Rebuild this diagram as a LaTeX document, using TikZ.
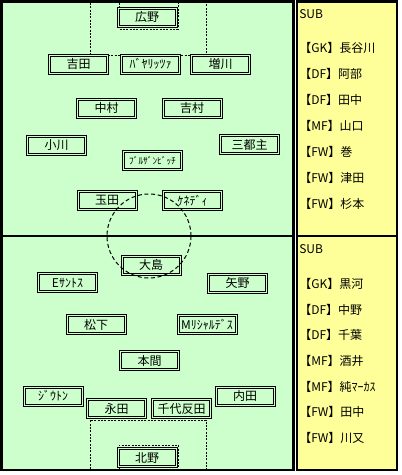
\documentclass[tikz,border=0pt]{standalone}
\usepackage{fontspec}
\setmainfont{Noto Sans CJK JP}
\definecolor{field}{RGB}{204,255,204}
\definecolor{bench}{RGB}{255,255,153}
\tikzset{
  player/.style={draw, line width=0.75pt, double=field, double distance=0.75pt,
    fill=field, minimum width=43.5pt, minimum height=13.5pt, inner sep=0pt,
    font=\fontsize{9pt}{10pt}\selectfont},
  smallname/.style={font=\fontsize{7pt}{8pt}\selectfont},
  subtext/.style={anchor=west, inner sep=0pt, font=\fontsize{9pt}{10pt}\selectfont},
  fielddot/.style={line width=0.75pt, dash pattern=on 1.5pt off 1pt},
  circdash/.style={line width=0.75pt, dash pattern=on 3pt off 2pt}
}
\begin{document}
\begin{tikzpicture}[x=0.75pt, y=-0.75pt]
  \fill[white] (0,0) rectangle (401,475);
  \useasboundingbox (0,0) rectangle (401,475);
  % field
  \fill[black] (0,0) rectangle (295,471);
  \fill[field] (3,3) rectangle (292,235);
  \fill[field] (3,237) rectangle (292,469);
  % bench panels
  \fill[black] (296,0) rectangle (398,471);
  \fill[bench] (298,3) rectangle (396,235);
  \fill[bench] (298,237) rectangle (396,469);
  % penalty areas
  \draw[fielddot] (90,3) -- (90,55) -- (206,55) -- (206,3);
  \draw[fielddot] (119,3) -- (119,29) -- (178,29) -- (178,3);
  \draw[fielddot] (90,469) -- (90,420) -- (206,420) -- (206,469);
  \draw[fielddot] (119,469) -- (119,445) -- (178,445) -- (178,469);
  % top team
  \node[player] (hirono) at (147,17) {広野};
  \node[player] (yoshida) at (78.5,64) {吉田};
  \node[player] (bayalitsa) at (150.5,64) {ﾊﾞﾔﾘｯﾂｧ};
  \node[player] (masukawa) at (220.5,64) {増川};
  \node[player] (nakamura) at (106.5,108) {中村};
  \node[player] (yoshimura) at (192,108) {吉村};
  \node[player] (ogawa) at (56.5,145) {小川};
  \node[player] (alex) at (249.5,144.5) {三都主};
  \node[player, smallname] (bulzan) at (152.5,160.5) {ﾌﾞﾙｻﾞﾝﾋﾞｯﾁ};
  \node[player] (tamada) at (107,200.5) {玉田};
  \node[player] (kennedy) at (192.5,200.5) {ｹﾈﾃﾞｨ};
  % bottom team
  \node[player] (oshima) at (151,265) {大島};
  \node[player] (esantos) at (67.5,282.7) {Eｻﾝﾄｽ};
  \node[player] (yano) at (237.5,283) {矢野};
  \node[player] (matsushita) at (96,324.7) {松下};
  \node[player] (mrichardes) at (207,324.7) {Mﾘｼｬﾙﾃﾞｽ};
  \node[player] (homma) at (149.5,360.5) {本間};
  \node[player] (jiuton) at (53,396) {ｼﾞｳﾄﾝ};
  \node[player] (uchida) at (245,396) {内田};
  \node[player] (nagata) at (116.5,408.7) {永田};
  \node[player] (chiyohanda) at (181.5,408.7) {千代反田};
  \node[player] (kitano) at (147,457.7) {北野};
  % centre circle
  \draw[circdash] (149,236) circle [radius=42];
  % substitutes top
  \node[subtext] (subA) at (299,14) {SUB};
  \node[subtext] (subA1) at (299,48) {【GK】長谷川};
  \node[subtext] (subA2) at (299,74) {【DF】阿部};
  \node[subtext] (subA3) at (299,100) {【DF】田中};
  \node[subtext] (subA4) at (299,126) {【MF】山口};
  \node[subtext] (subA5) at (299,152) {【FW】巻};
  \node[subtext] (subA6) at (299,178) {【FW】津田};
  \node[subtext] (subA7) at (299,204) {【FW】杉本};
  % substitutes bottom
  \node[subtext] (subB) at (299,249) {SUB};
  \node[subtext] (subB1) at (299,284) {【GK】黒河};
  \node[subtext] (subB2) at (299,310) {【DF】中野};
  \node[subtext] (subB3) at (299,335) {【DF】千葉};
  \node[subtext] (subB4) at (299,361) {【MF】酒井};
  \node[subtext] (subB5) at (299,387) {【MF】純ﾏｰｶｽ};
  \node[subtext] (subB6) at (299,412) {【FW】田中};
  \node[subtext] (subB7) at (299,438) {【FW】川又};
\end{tikzpicture}
\end{document}
